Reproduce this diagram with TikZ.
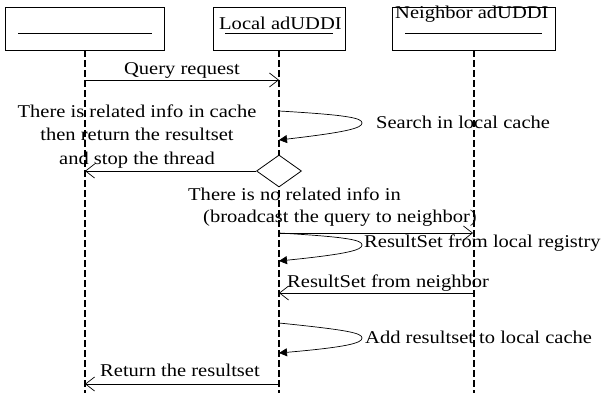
\documentclass[tikz,border=0pt]{standalone}
\usepackage{fontspec}
\setmainfont[FakeStretch=1.14]{Liberation Serif}
\usetikzlibrary{arrows.meta,shapes.geometric,calc}
\tikzset{
  objbox/.style={draw, line width=0.8pt, inner sep=0pt},
  life/.style={line width=2pt, dash pattern=on 6.5pt off 3.5pt},
  msg/.style={line width=0.7pt, -{Straight Barb[length=9pt,width=14pt]}},
  selfmsg/.style={line width=0.7pt, -{Triangle[length=8pt,width=8pt]}},
  lbl/.style={inner sep=0pt}
}
% #1 start, #2 tip, #3 end
\newcommand{\selfcall}[3]{%
  \draw[selfmsg] (#1) .. controls ($(#2)+(-14,-8)$) and ($(#2)+(0,-5)$) .. (#2)
    .. controls ($(#2)+(0,5)$) and ($(#2)+(-14,9)$) .. (#3);
}

\begin{document}
\begin{tikzpicture}[x=1pt,y=-1pt,every node/.style={font=\fontsize{18}{23.5}\selectfont}]
  \useasboundingbox (0,0) rectangle (601,393);
  % objects
  \node[objbox, minimum width=159pt, minimum height=43pt] (userobj) at (84.5,28.5) {};
  \node[objbox, minimum width=132pt, minimum height=43pt] (localobj) at (279,28.5) {};
  \node[objbox, minimum width=163pt, minimum height=43pt] (neighborobj) at (473.5,28.5) {};
  \node[lbl, anchor=base west] (localname) at (219,30) {Local adUDDI};
  \node[lbl, anchor=base west] (neighborname) at (395,19) {Neighbor adUDDI};
  \draw[line width=0.6pt] (18,33) -- (152,33);
  \draw[line width=0.6pt] (225,33) -- (333,33);
  \draw[line width=0.6pt] (405,33) -- (542,33);
  % lifelines
  \coordinate (bottom) at (0,393);
  \foreach \o in {userobj,localobj,neighborobj}
    \draw[life] (\o.south) -- (\o.south |- bottom);
  \coordinate (qry-a) at (85,80);  \coordinate (qry-b) at (279,80);
  \coordinate (s1-a) at (279,111); \coordinate (s1-t) at (362,123); \coordinate (s1-b) at (279,140);
  \coordinate (hit) at (85,171);
  \coordinate (bc-a) at (279,233); \coordinate (bc-b) at (473,233);
  \coordinate (s2-t) at (362,245); \coordinate (s2-b) at (279,261);
  \coordinate (rsn-a) at (473,293); \coordinate (rsn-b) at (279,293);
  \coordinate (s3-a) at (279,323); \coordinate (s3-t) at (362,338); \coordinate (s3-b) at (279,353);
  \coordinate (ret-a) at (279,384); \coordinate (ret-b) at (85,384);
  % decision
  \node[draw, diamond, fill=white, line width=0.8pt, minimum width=45pt, minimum height=32pt, inner sep=0pt] (dec) at (279,171) {};
  % messages
  \draw[msg] (qry-a) -- (qry-b);
  \node[lbl, anchor=base] (qrylbl) at (182,75) {Query request};
  \selfcall{s1-a}{s1-t}{s1-b}
  \node[lbl, anchor=base west] (s1lbl) at (376,128) {Search in local cache};
  \draw[msg] (dec.west) -- (hit);
  \node[lbl, align=center, anchor=north] (hitlbl) at (137,104.5) {There is related info in cache\\then return the resultset\\and stop the thread};
  \node[lbl, anchor=base west] (misslbl) at (188,200) {There is no related info in};
  \node[lbl, anchor=base west] (bclbl) at (203,222) {(broadcast the query to neighbor)};
  \draw[msg] (bc-a) -- (bc-b);
  \selfcall{bc-a}{s2-t}{s2-b}
  \node[lbl, anchor=base west] (s2lbl) at (364,247) {ResultSet from local registry};
  \draw[msg] (rsn-a) -- (rsn-b);
  \node[lbl, anchor=base west] (rsnlbl) at (287,287) {ResultSet from neighbor};
  \selfcall{s3-a}{s3-t}{s3-b}
  \node[lbl, anchor=base west] (s3lbl) at (365,343) {Add resultset to local cache};
  \draw[msg] (ret-a) -- (ret-b);
  \node[lbl, anchor=base west] (retlbl) at (100,376) {Return the resultset};
\end{tikzpicture}
\end{document}
